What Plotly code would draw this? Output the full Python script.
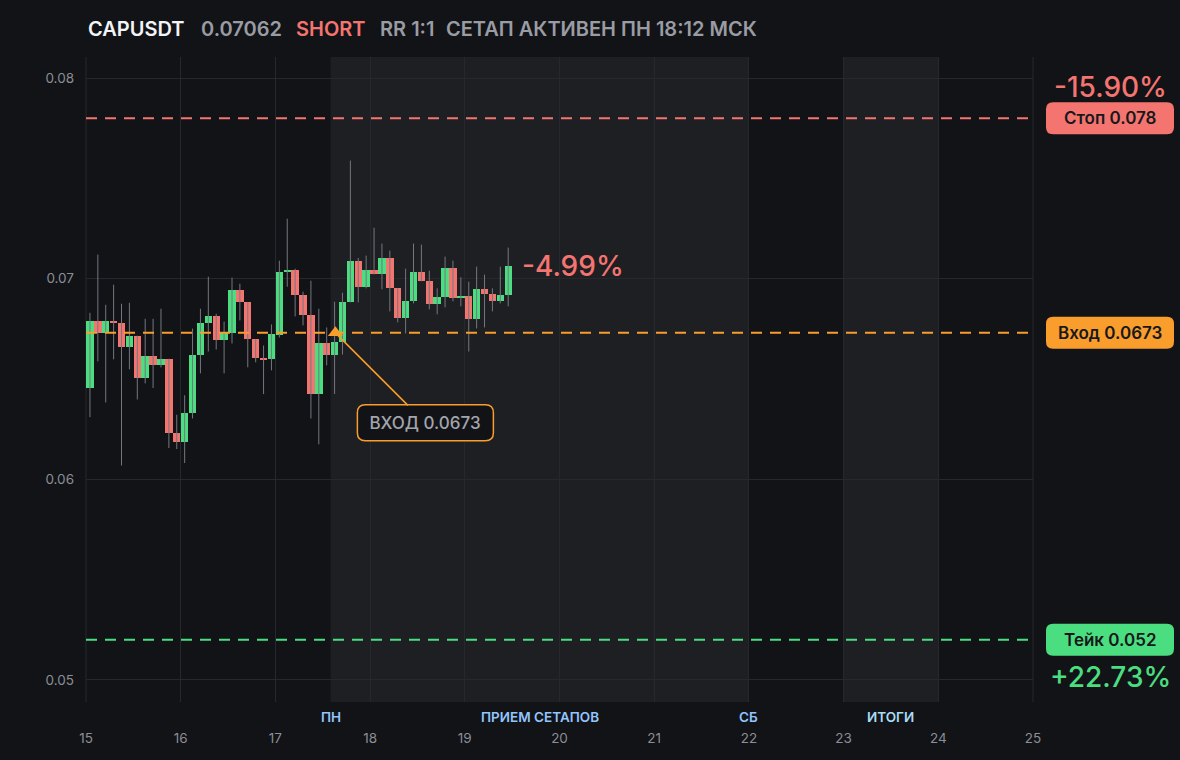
import pandas as pd
import plotly.graph_objects as go

# 2h candles, CAPUSDT
candle_start = "2025-03-15 00:00"
opens = [0.06453, 0.0679, 0.06727, 0.0679, 0.06781, 0.06662, 0.06716, 0.06503, 0.06616, 0.06568,
         0.06601, 0.06233, 0.06184, 0.06332, 0.06621, 0.06781, 0.06815, 0.06692, 0.06727, 0.06945,
         0.06882, 0.06697, 0.06603, 0.06598, 0.06717, 0.07035, 0.07045, 0.06917, 0.06817, 0.06423,
         0.06681, 0.06622, 0.06682, 0.06885, 0.0709, 0.06957, 0.07045, 0.07021, 0.07105, 0.06952,
         0.06802, 0.0689, 0.07035, 0.06987, 0.06872, 0.0691, 0.07055, 0.06902, 0.06912, 0.06797,
         0.0695, 0.06922, 0.06887, 0.0692]
highs = [0.0683, 0.0712, 0.0687, 0.0697, 0.06875, 0.0688, 0.06716, 0.068, 0.068, 0.0685,
         0.06601, 0.06322, 0.06419, 0.06751, 0.0685, 0.0701, 0.06825, 0.06786, 0.07005, 0.06975,
         0.06882, 0.06697, 0.06667, 0.06772, 0.0709, 0.07299, 0.0705, 0.06935, 0.0699, 0.0685,
         0.06757, 0.06885, 0.0693, 0.07589, 0.07103, 0.07115, 0.07254, 0.07175, 0.0714, 0.06952,
         0.0705, 0.07175, 0.0717, 0.0704, 0.06952, 0.0711, 0.0709, 0.07007, 0.06985, 0.0706,
         0.0702, 0.06952, 0.0706, 0.07155]
lows = [0.0631, 0.06588, 0.06383, 0.06598, 0.06069, 0.06548, 0.06398, 0.06478, 0.06455, 0.06558,
        0.06156, 0.06151, 0.06081, 0.06303, 0.06528, 0.06637, 0.06647, 0.06528, 0.06677, 0.06792,
        0.06558, 0.06583, 0.06425, 0.06543, 0.06707, 0.0696, 0.06812, 0.06767, 0.06303, 0.06174,
        0.06568, 0.06425, 0.06622, 0.06882, 0.06882, 0.06952, 0.07021, 0.06947, 0.06837, 0.06782,
        0.06727, 0.06877, 0.06987, 0.06847, 0.06822, 0.06857, 0.06887, 0.06862, 0.06637, 0.06752,
        0.06757, 0.06837, 0.06877, 0.06862]
closes = [0.0679, 0.06727, 0.0679, 0.06777, 0.06662, 0.06716, 0.06503, 0.06616, 0.06568, 0.06601,
          0.06233, 0.06184, 0.06332, 0.06621, 0.06781, 0.06815, 0.06692, 0.06727, 0.06945, 0.06882,
          0.06697, 0.06603, 0.06598, 0.06722, 0.07035, 0.07045, 0.06917, 0.06817, 0.06423, 0.06681,
          0.06622, 0.06682, 0.06885, 0.0709, 0.06957, 0.07045, 0.07021, 0.07105, 0.06952, 0.06802,
          0.0689, 0.07035, 0.06987, 0.06872, 0.0691, 0.07055, 0.06902, 0.06912, 0.06797, 0.0695,
          0.06922, 0.06887, 0.0692, 0.07062]

entry_price = 0.0673
stop_price = 0.078
take_price = 0.052
entry_time = "2025-03-17 15:12"
setup_start = "2025-03-17 14:00"
setup_end = "2025-03-22 00:00"
results_start = "2025-03-23 00:00"
results_end = "2025-03-24 00:00"

day_ticks = pd.date_range("2025-03-15", "2025-03-25", freq="D")
day_labels = [str(d.day) for d in day_ticks]
price_ticks = [0.05, 0.06, 0.07, 0.08]
price_labels = ["0.05", "0.06", "0.07", "0.08"]

header_parts = ["CAPUSDT", "0.07062", "SHORT", "RR 1:1", "СЕТАП АКТИВЕН ПН 18:12 МСК"]
open_move = "-4.99%"
stop_pct = "-15.90%"
take_pct = "+22.73%"

# colours
BG = "#121317"
SHADE = "#1e1f23"
GRID = "#27282d"
GREEN = "#4ade80"
RED = "#f47570"
ORANGE = "#f99d2d"
GRAY = "#9a9ca3"
WICK = "#74777e"
BLUE = "#93c5fd"

FONT = "Inter"

times = pd.date_range(candle_start, periods=len(opens), freq="2h") + pd.Timedelta(hours=1)
up = [c >= o for o, c in zip(opens, closes)]
body_colors = [GREEN if u else RED for u in up]
base = [min(o, c) for o, c in zip(opens, closes)]
height = [abs(c - o) for o, c in zip(opens, closes)]

wick_x, wick_y = [], []
for t, lo, hi in zip(times, lows, highs):
    wick_x += [t, t, None]
    wick_y += [lo, hi, None]

fig = go.Figure()
fig.add_trace(go.Scatter(x=wick_x, y=wick_y, mode="lines",
                         line=dict(color=WICK, width=1), hoverinfo="skip"))
fig.add_trace(go.Bar(x=times, y=height, base=base, marker_color=body_colors,
                     marker_line_width=0, width=2 * 3600 * 1000 * 0.94))
fig.add_trace(go.Scatter(x=[pd.Timestamp(entry_time)], y=[entry_price], mode="markers",
                         marker=dict(symbol="triangle-up", size=13, color=ORANGE)))


def rrect(x0, x1, y0, y1, r):
    return (f"M {x0 + r},{y0} L {x1 - r},{y0} Q {x1},{y0} {x1},{y0 + r} "
            f"L {x1},{y1 - r} Q {x1},{y1} {x1 - r},{y1} L {x0 + r},{y1} "
            f"Q {x0},{y1} {x0},{y1 - r} L {x0},{y0 + r} Q {x0},{y0} {x0 + r},{y0} Z")


shapes = []
# session shading
for x0, x1 in [(setup_start, setup_end), (results_start, results_end)]:
    shapes.append(dict(type="rect", xref="x", yref="paper", x0=x0, x1=x1, y0=0, y1=1,
                       fillcolor=SHADE, line_width=0, layer="below"))
# grid lines on the plot edges
for xe in [0, 1]:
    shapes.append(dict(type="line", xref="paper", yref="paper", x0=xe, x1=xe, y0=0, y1=1,
                       line=dict(color=GRID, width=1), layer="below"))

# level lines + badges
levels = [(stop_price, RED, "Стоп 0.078"), (entry_price, ORANGE, "Вход 0.0673"),
          (take_price, GREEN, "Тейк 0.052")]
annotations = []
for price, col, label in levels:
    shapes.append(dict(type="line", xref="paper", yref="y", x0=0, x1=1, y0=price, y1=price,
                       line=dict(color=col, width=2, dash="11px,8px"), layer="above"))
    shapes.append(dict(type="path", xref="paper", yref="y", xsizemode="pixel", ysizemode="pixel",
                       xanchor=1, yanchor=price, path=rrect(13, 141, -16, 16, 7),
                       fillcolor=col, line_width=0, layer="above"))
    annotations.append(dict(xref="paper", yref="y", x=1, y=price, xshift=77, text=label,
                            showarrow=False, xanchor="center", yanchor="middle",
                            font=dict(family=FONT, size=17, color="#18181b", weight=600)))

annotations.append(dict(xref="paper", yref="y", x=1, y=stop_price, xshift=77, yshift=31,
                        text=stop_pct, showarrow=False, xanchor="center", yanchor="middle",
                        font=dict(family=FONT, size=28, color=RED, weight=500)))
annotations.append(dict(xref="paper", yref="y", x=1, y=take_price, xshift=77, yshift=-37,
                        text=take_pct, showarrow=False, xanchor="center", yanchor="middle",
                        font=dict(family=FONT, size=28, color=GREEN, weight=500)))

# current move
annotations.append(dict(xref="x", yref="y", x=times[-1], y=closes[-1], xshift=12,
                        text=open_move, showarrow=False, xanchor="left", yanchor="middle",
                        font=dict(family=FONT, size=28, color=RED, weight=500)))

# entry callout
shapes.append(dict(type="path", xref="x", yref="y", xsizemode="pixel", ysizemode="pixel",
                   xanchor=entry_time, yanchor=entry_price,
                   path=rrect(22, 158, -108, -72, 8),
                   fillcolor=BG, line=dict(color=ORANGE, width=1.5), layer="above"))
annotations.append(dict(xref="x", yref="y", x=entry_time, y=entry_price, ax=90, ay=90,
                        text="ВХОД 0.0673", showarrow=True, arrowhead=0, arrowwidth=1.5,
                        arrowcolor=ORANGE, width=130, height=30, borderpad=2,
                        bordercolor="rgba(0,0,0,0)", bgcolor="rgba(0,0,0,0)",
                        font=dict(family=FONT, size=17, color="#a3a5ac", weight=500)))

# header
header_x = [86, 199, 294, 378, 444]
header_colors = ["#f3f4f6", GRAY, RED, GRAY, GRAY]
for txt, px, col in zip(header_parts, header_x, header_colors):
    annotations.append(dict(xref="paper", yref="paper", x=(px - 86) / 947, y=1, yshift=28,
                            text=txt, showarrow=False, xanchor="left", yanchor="middle",
                            font=dict(family=FONT, size=20, color=col, weight=600)))

# session labels under the axis
session_labels = [(setup_start, "ПН", BLUE),
                  ("2025-03-19 19:00", "ПРИЕМ СЕТАПОВ", BLUE),
                  (setup_end, "СБ", BLUE),
                  ("2025-03-23 12:00", "ИТОГИ", "#a9dcf7")]
for xv, txt, col in session_labels:
    annotations.append(dict(xref="x", yref="paper", x=xv, y=0, yshift=-15, text=txt,
                            showarrow=False, xanchor="center", yanchor="middle",
                            font=dict(family=FONT, size=13.5, color=col, weight=600)))

fig.update_layout(
    width=1180, height=760,
    margin=dict(l=86, r=147, t=57, b=58),
    paper_bgcolor=BG, plot_bgcolor=BG,
    showlegend=False, bargap=0,
    shapes=shapes, annotations=annotations,
    font=dict(family=FONT, color=GRAY),
)
fig.update_xaxes(type="date", range=["2025-03-15", "2025-03-25"],
                 tickvals=day_ticks, ticktext=day_labels,
                 showgrid=True, gridcolor=GRID, gridwidth=1, zeroline=False, showline=False,
                 ticks="", ticklabelstandoff=26,
                 tickfont=dict(family=FONT, size=13.5, color="#8b8e95"))
fig.update_yaxes(range=[0.0489, 0.08105], tickvals=price_ticks, ticktext=price_labels,
                 showgrid=True, gridcolor=GRID, gridwidth=1, zeroline=False, showline=False,
                 ticks="", ticklabelstandoff=11,
                 tickfont=dict(family=FONT, size=13.5, color="#8b8e95"))

fig.write_html("out.html", config={"displayModeBar": False},
               post_script="document.body.style.margin='0';")
